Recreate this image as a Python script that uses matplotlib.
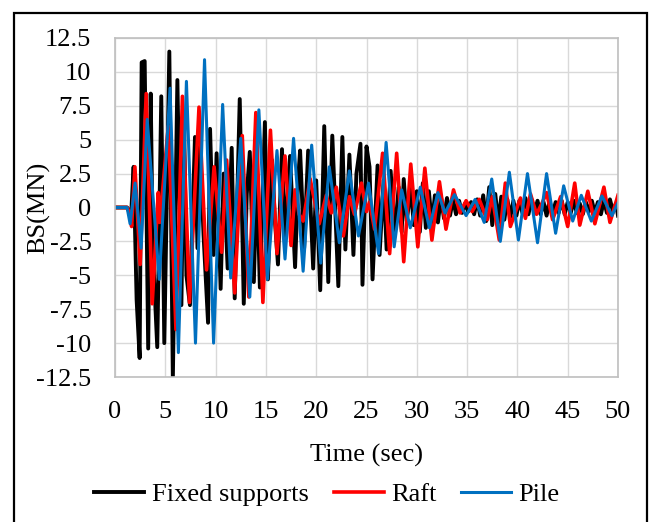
import matplotlib.pyplot as plt
from matplotlib.patches import Rectangle

# Fixed supports (extremos)
t_fixed = [0, 1.2, 1.4, 1.6, 1.85, 2.15, 2.45, 2.65, 2.95, 3.3, 3.55, 3.75, 4.2, 4.6, 4.9,
           5.4, 5.75, 6.2, 6.6, 6.85, 7.1, 7.45, 7.95, 8.2, 8.45, 8.8, 9.25, 9.45, 9.8, 10.1,
           10.5, 10.8, 11.2, 11.6, 11.9, 12.4, 12.8, 13.1, 13.4, 13.8, 14.1, 14.4, 14.9, 15.2,
           15.6, 15.9, 16.2, 16.6, 16.9, 17.2, 17.4, 17.9, 18.2, 18.4, 18.8, 19.2, 19.7, 20.0,
           20.4, 20.8, 21.2, 21.6, 22.2, 22.6, 22.9, 23.3, 23.7, 24.0, 24.4, 24.6, 25.0, 25.3,
           25.6, 26.1, 26.3, 26.7, 27.0, 27.4, 27.8, 28.2, 28.5, 28.7, 29.0, 29.4, 29.7, 30.0,
           30.3, 30.6, 30.9, 31.2, 31.5, 31.8, 32.1, 32.4, 32.7, 33.0, 33.3, 33.6, 33.9, 34.2,
           34.5, 34.8, 35.1, 35.4, 35.7, 36.0, 36.3, 36.6, 36.9, 37.2, 37.5, 37.8, 38.1, 38.4,
           38.7, 39.0, 39.3, 39.6, 39.9, 40.2, 40.5, 40.8, 41.1, 41.4, 41.7, 42.0, 42.3, 42.6,
           42.9, 43.2, 43.5, 43.8, 44.1, 44.4, 44.7, 45.0, 45.3, 45.6, 45.9, 46.2, 46.5, 46.8,
           47.1, 47.4, 47.7, 48.0, 48.3, 48.6, 48.9, 49.2, 49.5, 49.8, 50.0]
bs_fixed = [0, 0, -0.3, -0.6, 3.0, -6.8, -11.1, 10.7, 10.8, -10.4, 8.4, -3.0, -10.3, 8.2, -10.0,
            11.5, -12.6, 9.4, -7.2, 7.0, -5.0, -7.2, 5.2, -3.0, 4.5, -2.0, -8.5, 5.8, -3.5, 4.0,
            -6.0, 2.5, -4.5, 4.4, -6.7, 8.0, -7.1, 1.0, 4.1, -5.5, 2.5, -5.9, 6.3, -5.3,
            3.5, -1.0, -4.2, 4.3, -2.5, 1.5, 3.8, -4.4, 2.0, 4.2, -3.0, 4.2, -4.5, 2.0,
            -6.1, 6.0, -5.5, 5.3, -5.8, 5.2, -3.1, 3.9, -3.5, 2.5, 4.7, -5.7, 4.5, 3.0,
            -5.3, 3.1, -3.5, 2.0, -3.1, 2.7, -2.0, 1.5, -1.8, 2.1, -1.0, 1.5, -1.3, 1.2,
            -1.8, 1.8, -1.5, 1.2, -1.2, 0.9, -1.1, 0.8, -0.8, 0.7, -0.6, 0.6, -0.5, 0.5,
            -0.4, 0.3, -0.3, 0.4, -0.5, 0.6, -0.6, 0.9, -1.0, 1.5, -1.3, 1.0, -1.1, 0.8,
            -0.9, 0.6, -0.7, 0.5, -0.6, 0.5, -0.4, 0.7, -0.5, 0.6, -0.4, 0.5, -0.5, 0.4,
            -0.6, 0.5, -0.5, 0.4, -0.4, 0.5, -0.5, 0.4, -0.4, 0.5, -0.4, 0.3, -0.5, 0.4,
            -0.3, 0.5, -0.4, 0.4, -0.5, 0.5, -0.4, 0.6, -0.3, 0.3, -0.6]

# Raft
t_raft = [0, 1.2, 1.5, 1.65, 1.98, 2.5, 3.1, 3.7, 4.3, 4.45, 5.3, 6.06, 6.7, 7.4, 8.35, 9.1,
          9.85, 10.6, 11.1, 11.9, 12.65, 13.3, 14.0, 14.7, 15.45, 16.1, 16.9, 17.5, 17.9, 18.3,
          18.7, 19.4, 20.3, 21.0, 21.5, 22.0, 22.7, 23.3, 23.8, 24.5, 25.0, 25.3, 25.8, 26.6,
          27.3, 28.0, 28.7, 29.4, 30.1, 30.8, 31.5, 32.25, 32.9, 33.65, 34.3, 34.9, 35.5, 36.2,
          37.0, 37.5, 38.2, 38.8, 39.3, 40.3, 40.8, 41.3, 41.9, 42.5, 42.9, 43.5, 44.3, 45.0,
          45.7, 46.2, 47.0, 47.7, 48.6, 49.2, 50.0]
bs_raft = [0, 0, -0.4, -1.4, 3.0, -4.2, 8.4, -7.1, 1.1, -1.1, 6.0, -9.0, 8.2, -7.0, 7.4, -4.6,
           3.0, -3.3, 3.5, -6.3, 5.3, -6.6, 7.0, -7.0, 5.7, -3.4, 3.8, -2.8, 1.3, -0.5,
           -1.0, 2.1, -1.2, 0.9, -0.4, 1.5, -2.1, 0.8, -0.5, 1.8, -0.3, 0.4, -1.6, 4.0,
           -3.4, 4.0, -4.0, 3.2, -2.9, 2.9, -2.4, 1.9, -1.6, 1.3, -0.4, 0.5, -0.3, 0.6,
           -0.9, 0.8, -2.4, 1.8, -1.4, 0.7, -0.8, 1.0, -0.5, 0.4, 1.1, -0.9, 0.8, -1.4,
           1.8, -1.3, 1.2, -1.2, 1.5, -1.1, 0.9]

# Pile
t_pile = [0, 1.2, 1.5, 2.0, 2.6, 3.2, 4.4, 5.47, 6.3, 7.1, 8.0, 8.9, 9.8, 10.7, 11.5, 12.5,
          13.4, 14.3, 15.15, 16.1, 16.9, 17.75, 18.7, 19.55, 20.45, 21.3, 22.3, 23.3, 24.2,
          25.2, 26.2, 26.95, 27.75, 28.5, 29.35, 30.35, 31.25, 32.1, 32.8, 33.75, 34.9, 35.8,
          36.7, 37.45, 38.3, 39.2, 40.1, 41.0, 42.0, 42.9, 43.8, 44.6, 45.5, 46.35, 47.35,
          48.4, 49.4, 50.0]
bs_pile = [0, 0, -1.2, 1.8, -3.0, 6.5, -5.3, 8.8, -10.7, 9.3, -10.0, 10.9, -10.0, 7.6, -5.2, 5.1,
           -6.6, 7.2, -5.3, 4.2, -3.8, 5.1, -4.7, 4.6, -4.1, 3.0, -2.6, 2.7, -2.1,
           1.8, -3.4, 4.8, -2.9, 1.3, -1.5, 1.5, -1.5, 1.1, -0.4, 0.95, -0.6, 0.6,
           -1.1, 2.1, -2.5, 2.6, -2.4, 2.5, -2.6, 2.5, -1.9, 1.6, -1.0, 0.9, -1.0,
           0.85, -0.6, 0.35]

x_ticks = [0, 5, 10, 15, 20, 25, 30, 35, 40, 45, 50]
y_ticks = [-12.5, -10, -7.5, -5, -2.5, 0, 2.5, 5, 7.5, 10, 12.5]
y_labels = ["-12.5", "-10", "-7.5", "-5", "-2.5", "0", "2.5", "5", "7.5", "10", "12.5"]

plt.rcParams['font.family'] = ['Liberation Serif', 'DejaVu Serif']
plt.rcParams['font.size'] = 19

fig = plt.figure(figsize=(6.54, 5.22), dpi=100)
ax = fig.add_axes([115 / 654, 1 - 377 / 522, (618 - 115) / 654, (377 - 38) / 522])

ax.plot(t_fixed, bs_fixed, color='black', lw=2.8, label='Fixed supports', solid_joinstyle='round')
ax.plot(t_raft, bs_raft, color='#FF0000', lw=2.6, label='Raft', solid_joinstyle='round')
ax.plot(t_pile, bs_pile, color='#0070C0', lw=2.2, label='Pile', solid_joinstyle='round')

ax.set_xlim(0, 50)
ax.set_ylim(-12.5, 12.5)
ax.set_xticks(x_ticks)
ax.set_yticks(y_ticks)
ax.set_yticklabels(y_labels)
ax.tick_params(axis='x', length=0, pad=17)
ax.tick_params(axis='y', length=0, pad=17)
ax.grid(True, color='#d9d9d9', lw=1.0)
ax.set_axisbelow(True)
for s in ax.spines.values():
    s.set_color('#bfbfbf')
    s.set_linewidth(1.2)

ax.set_xlabel('Time (sec)', labelpad=15)
ax.set_ylabel('BS(MN)')
ax.yaxis.set_label_coords(-0.128, 0.5)

fig.legend(loc='center', bbox_to_anchor=(0.5, 1 - 494 / 522), ncol=3, frameon=False,
           handlelength=1.9, handletextpad=0.27, columnspacing=0.95, fontsize=19)

# marco exterior
fig.patches.append(Rectangle((13.5 / 654, -0.05), (646.5 - 13.5) / 654, 1.05 - 13 / 522,
                             transform=fig.transFigure, fill=False, edgecolor='black', lw=1.6))

fig.savefig('out.png', dpi=100)
